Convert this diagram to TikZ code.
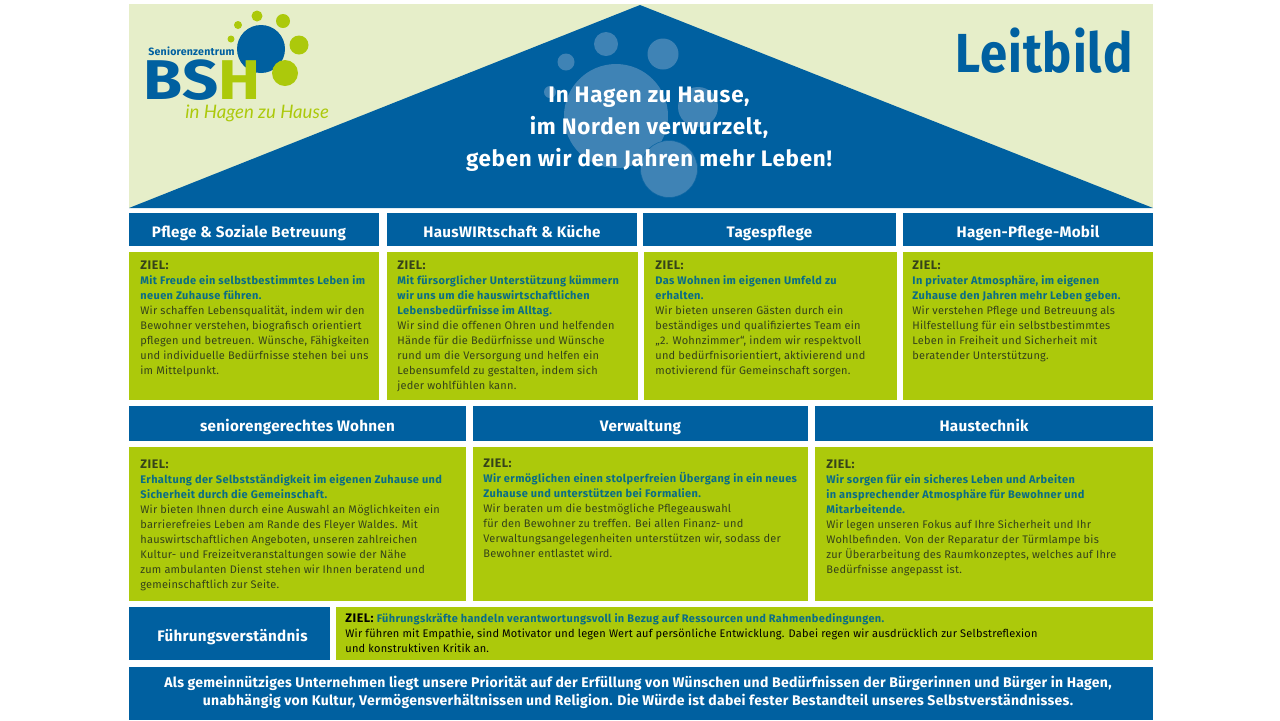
\documentclass[tikz,border=0pt]{standalone}
\usepackage{graphicx}
\usepackage{fontspec}
\setmainfont[LetterSpace=2.0]{Fira Sans}
\newfontfamily\logofont[ItalicFont=Lato Italic]{Lato}
\definecolor{hausblue}{HTML}{0060A0}
\definecolor{hausgreen}{HTML}{ACC90B}
\definecolor{hauspale}{HTML}{E6EEC9}
\definecolor{pawblue}{HTML}{3F83B5}
\definecolor{goalblue}{HTML}{0A6C86}
\definecolor{bodyolive}{HTML}{35431A}
\newcommand{\zielhead}[1]{{\fontsize{6.2}{7.5}\selectfont\bfseries\addfontfeature{LetterSpace=4}#1}}
\newcommand{\zielgoal}[1]{\textcolor{goalblue}{\bfseries\addfontfeature{LetterSpace=3.5}#1}}
\begin{document}
\begin{tikzpicture}[x=0.5pt,y=-0.5pt]
\tikzset{size/.style 2 args = {minimum width=#1*0.5pt,minimum height=#2*0.5pt}}
\tikzset{panel/.style = {shape=rectangle,anchor=north west,inner sep=0pt,outer sep=0pt}}
\tikzset{headbox/.style = {panel,fill=hausblue,text=white,text height=7.5pt,text depth=0pt,font=\fontsize{7.6}{9}\selectfont\bfseries}}
\tikzset{zielbox/.style = {panel,fill=hausgreen}}
\tikzset{zieltext/.style = {anchor=north west,inner sep=0pt,align=left,text=bodyolive,font=\fontsize{5.5}{7.5}\selectfont}}
\tikzset{paw/.style = {shape=circle,fill=pawblue,inner sep=0pt}}
\tikzset{dot/.style = {shape=circle,fill=hausgreen,inner sep=0pt}}
\useasboundingbox (0,0) rectangle (1280,720);
% house
\node[panel,fill=hauspale,size={1024}{204}] (sky) at (129,4) {};
\fill[hausblue] (129,208) -- (640,5) -- (1153,208) -- cycle;
\node[paw,minimum size=24pt/2] (p1) at (606,44) {};
\node[paw,minimum size=31pt/2] (p2) at (663,54) {};
\node[paw,minimum size=17pt/2] (p3) at (566,62) {};
\node[paw,minimum size=12pt/2] (p4) at (550,92) {};
\node[paw,minimum size=104pt/2] (p5) at (616,116) {};
\node[paw,minimum size=40pt/2] (p6) at (698,107) {};
\node[paw,minimum size=57pt/2,draw=hausblue!80!pawblue,line width=0.3pt] (p7) at (669,169) {};
\node[text=white,align=center,font=\fontsize{11.2}{16}\selectfont\bfseries\addfontfeature{LetterSpace=3.3}] (motto) at (649,129)
  {In Hagen zu Hause,\\im Norden verwurzelt,\\geben wir den Jahren mehr Leben!};
\node[text=hausblue,font=\fontsize{27.5}{30}\selectfont\bfseries] (leitbild) at (1044,51) {\scalebox{0.89}[1]{Leitbild}};
% logo
\node[dot,fill=hausblue,minimum size=48pt/2] (l1) at (261,49) {};
\node[dot,minimum size=11pt/2] (l2) at (257,16) {};
\node[dot,minimum size=14pt/2] (l3) at (283,21) {};
\node[dot,minimum size=19pt/2] (l4) at (299,45) {};
\node[dot,minimum size=26pt/2] (l5) at (285,73) {};
\node[dot,minimum size=8pt/2] (l6) at (238,25) {};
\node[dot,minimum size=7pt/2] (l7) at (231,39) {};
\node[anchor=west,inner sep=0pt,text=hausblue,font=\fontsize{5.3}{6}\selectfont\bfseries] (senioren) at (148,51) {Seniorenzentrum};
\node[anchor=west,inner sep=0pt,font=\fontsize{28}{28}\selectfont\bfseries] (bsh) at (143,80) {\scalebox{1.13}[1]{\textcolor{hausblue}{BS}\textcolor{hausgreen}{H}}};
\node[anchor=west,inner sep=0pt,text=hausgreen,font=\logofont\fontsize{9.3}{10}\selectfont\itshape] (hagen) at (185,113) {in Hagen zu Hause};
% first row
\node[headbox,size={250}{33}] (pflege) at (129,213) {Pflege \& Soziale Betreuung\hspace*{5pt}};
\node[headbox,size={250}{33}] (kueche) at (387,213) {HausWIRtschaft \& Küche};
\node[headbox,size={253}{33}] (tages) at (643,213) {Tagespflege};
\node[headbox,size={250}{33}] (mobil) at (903,213) {Hagen-Pflege-Mobil};
\node[zielbox,size={250}{148}] (pflegebox) at (129,252) {};
\node[zielbox,size={251}{148}] (kuechebox) at (387,252) {};
\node[zielbox,size={253}{148}] (tagesbox) at (644,252) {};
\node[zielbox,size={250}{148}] (mobilbox) at (903,252) {};
\node[zieltext] (pflegetext) at (140,260) {\zielhead{ZIEL:}\\
  \zielgoal{Mit Freude ein selbstbestimmtes Leben im}\\\zielgoal{neuen Zuhause führen.}\\
  Wir schaffen Lebensqualität, indem wir den\\Bewohner verstehen, biografisch orientiert\\pflegen und betreuen. Wünsche, Fähigkeiten\\und individuelle Bedürfnisse stehen bei uns\\im Mittelpunkt.};
\node[zieltext] (kuechetext) at (397,260) {\zielhead{ZIEL:}\\
  \zielgoal{Mit fürsorglicher Unterstützung kümmern}\\\zielgoal{wir uns um die hauswirtschaftlichen}\\\zielgoal{Lebensbedürfnisse im Alltag.}\\
  Wir sind die offenen Ohren und helfenden\\Hände für die Bedürfnisse und Wünsche\\rund um die Versorgung und helfen ein\\Lebensumfeld zu gestalten, indem sich\\jeder wohlfühlen kann.};
\node[zieltext] (tagestext) at (655,260) {\zielhead{ZIEL:}\\
  \zielgoal{Das Wohnen im eigenen Umfeld zu}\\\zielgoal{erhalten.}\\
  Wir bieten unseren Gästen durch ein\\beständiges und qualifiziertes Team ein\\„2. Wohnzimmer“, indem wir respektvoll\\und bedürfnisorientiert, aktivierend und\\motivierend für Gemeinschaft sorgen.};
\node[zieltext] (mobiltext) at (912,260) {\zielhead{ZIEL:}\\
  \zielgoal{In privater Atmosphäre, im eigenen}\\\zielgoal{Zuhause den Jahren mehr Leben geben.}\\
  Wir verstehen Pflege und Betreuung als\\Hilfestellung für ein selbstbestimmtes\\Leben in Freiheit und Sicherheit mit\\beratender Unterstützung.};
% second row
\node[headbox,size={337}{35}] (wohnen) at (129,406) {seniorengerechtes Wohnen};
\node[headbox,size={335}{35}] (verwaltung) at (473,406) {Verwaltung};
\node[headbox,size={338}{35}] (technik) at (815,406) {Haustechnik};
\node[zielbox,size={337}{154}] (wohnenbox) at (129,447) {};
\node[zielbox,size={335}{154}] (verwaltungbox) at (473,447) {};
\node[zielbox,size={338}{154}] (technikbox) at (815,447) {};
\node[zieltext] (wohnentext) at (140,459) {\zielhead{ZIEL:}\\
  \zielgoal{Erhaltung der Selbstständigkeit im eigenen Zuhause und}\\\zielgoal{Sicherheit durch die Gemeinschaft.}\\
  Wir bieten Ihnen durch eine Auswahl an Möglichkeiten ein\\barrierefreies Leben am Rande des Fleyer Waldes. Mit\\hauswirtschaftlichen Angeboten, unseren zahlreichen\\Kultur- und Freizeitveranstaltungen sowie der Nähe\\zum ambulanten Dienst stehen wir Ihnen beratend und\\gemeinschaftlich zur Seite.};
\node[zieltext] (verwaltungtext) at (483,458) {\zielhead{ZIEL:}\\
  \zielgoal{Wir ermöglichen einen stolperfreien Übergang in ein neues}\\\zielgoal{Zuhause und unterstützen bei Formalien.}\\
  Wir beraten um die bestmögliche Pflegeauswahl\\für den Bewohner zu treffen. Bei allen Finanz- und\\Verwaltungsangelegenheiten unterstützen wir, sodass der\\Bewohner entlastet wird.};
\node[zieltext] (techniktext) at (826,459) {\zielhead{ZIEL:}\\
  \zielgoal{Wir sorgen für ein sicheres Leben und Arbeiten}\\\zielgoal{in ansprechender Atmosphäre für Bewohner und}\\\zielgoal{Mitarbeitende.}\\
  Wir legen unseren Fokus auf Ihre Sicherheit und Ihr\\Wohlbefinden. Von der Reparatur der Türmlampe bis\\zur Überarbeitung des Raumkonzeptes, welches auf Ihre\\Bedürfnisse angepasst ist.};
% bottom
\node[headbox,size={201}{53}] (fuehrung) at (129,607) {\hspace*{3pt}Führungsverständnis};
\node[zielbox,size={817}{53}] (fuehrungbox) at (336,607) {};
\node[zieltext,text=black] (fuehrungtext) at (345,613) {\zielhead{ZIEL:} \zielgoal{Führungskräfte handeln verantwortungsvoll in Bezug auf Ressourcen und Rahmenbedingungen.}\\
  Wir führen mit Empathie, sind Motivator und legen Wert auf persönliche Entwicklung. Dabei regen wir ausdrücklich zur Selbstreflexion\\und konstruktiven Kritik an.};
\node[panel,fill=hausblue,size={1024}{53}] (leitsatz) at (129,667) {};
\node[text=white,align=center,inner sep=0pt,font=\fontsize{7}{9}\selectfont\bfseries] (leitsatztext) at (638,692)
  {Als gemeinnütziges Unternehmen liegt unsere Priorität auf der Erfüllung von Wünschen und Bedürfnissen der Bürgerinnen und Bürger in Hagen,\\unabhängig von Kultur, Vermögensverhältnissen und Religion. Die Würde ist dabei fester Bestandteil unseres Selbstverständnisses.};
\end{tikzpicture}
\end{document}
